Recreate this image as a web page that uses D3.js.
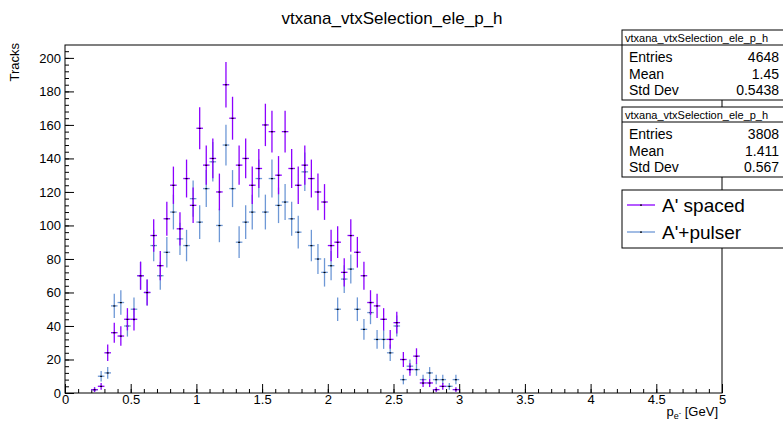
<!DOCTYPE html>
<html>
<head>
<meta charset="utf-8">
<script src="https://cdn.jsdelivr.net/npm/d3@7"></script>
<style>
  body { margin: 0; background: #fff; }
  svg { font-family: "Liberation Sans", Arial, sans-serif; }
</style>
</head>
<body>
<script>
// histogram: 100 bins of 0.05 GeV from 0 to 5, only bins 4..59 are filled
let binWidth = 0.05,
    firstBin = 4;

let spaced = [2, 4, 24, 36, 34, 44, 44, 70, 60, 94, 76, 104, 124, 98, 128, 112,
              158, 136, 140, 120, 184, 164, 136, 140, 124, 134, 160, 156, 130, 156,
              134, 124, 136, 128, 120, 114, 88, 90, 72, 94, 84, 70, 54, 52, 44, 32,
              42, 20, 14, 22, 6, 6, 2, 4, 0, 2];

let pulser = [2, 10, 12, 52, 54, 40, 50, 70, 60, 88, 70, 84, 108, 92, 88, 116,
              102, 122, 138, 100, 148, 122, 90, 102, 108, 128, 108, 128, 112, 114,
              104, 96, 132, 88, 80, 72, 76, 50, 68, 74, 50, 38, 48, 32, 32, 24,
              40, 8, 16, 14, 8, 12, 8, 8, 4, 8];

let xTicks = [0, 0.5, 1, 1.5, 2, 2.5, 3, 3.5, 4, 4.5, 5];
let yTicks = [0, 20, 40, 60, 80, 100, 120, 140, 160, 180, 200];

let stats = [
  {name: "vtxana_vtxSelection_ele_p_h", entries: "4648", mean: "1.45", std: "0.5438"},
  {name: "vtxana_vtxSelection_ele_p_h", entries: "3808", mean: "1.411", std: "0.567"}
];
let legendNames = ["A' spaced", "A'+pulser"];
let colors = ["#8c00ff", "#6e98d6"];

let width = 783, height = 426,
    margin = {top: 45, right: 61, bottom: 33, left: 65};

let x = d3.scaleLinear().domain([0, 5]).range([margin.left, width - margin.right]);
let y = d3.scaleLinear().domain([0, 207.7]).range([height - margin.bottom, margin.top]);

const svg = d3.select("body").append("svg")
    .attr("width", width)
    .attr("height", height);

// title
svg.append("text")
    .attr("x", 392).attr("y", 24)
    .attr("text-anchor", "middle")
    .attr("font-size", 17)
    .text("vtxana_vtxSelection_ele_p_h");

// axes, ticks inside the frame like ROOT
let xAxis = g => g
    .attr("transform", `translate(0,${y(0)})`)
    .call(d3.axisBottom(x).tickValues(xTicks).tickSize(-9).tickPadding(2)
      .tickFormat(d => d3.format("")(d)))
    .call(g => g.select(".domain").remove());
let xMinor = g => g
    .attr("transform", `translate(0,${y(0)})`)
    .call(d3.axisBottom(x).tickValues(d3.range(0, 5.01, 0.1)).tickSize(-4).tickFormat(""))
    .call(g => g.select(".domain").remove());
let yAxis = g => g
    .attr("transform", `translate(${x(0)},0)`)
    .call(d3.axisLeft(y).tickValues(yTicks).tickSize(-9).tickPadding(4))
    .call(g => g.select(".domain").remove());
let yMinor = g => g
    .attr("transform", `translate(${x(0)},0)`)
    .call(d3.axisLeft(y).tickValues(d3.range(0, 207, 4)).tickSize(-4).tickFormat(""))
    .call(g => g.select(".domain").remove());

svg.append("g").call(xMinor);
svg.append("g").call(yMinor);
svg.append("g").call(xAxis);
svg.append("g").call(yAxis);
svg.selectAll(".tick text").attr("font-size", 13).attr("fill", "#000")
    .attr("font-family", "Liberation Sans, Arial, sans-serif");
svg.selectAll(".tick line").attr("stroke", "#000");

// frame
svg.append("rect")
    .attr("x", x(0)).attr("y", y(207.7))
    .attr("width", x(5) - x(0)).attr("height", y(0) - y(207.7))
    .attr("fill", "none").attr("stroke", "#000");

// axis titles
svg.append("text")
    .attr("transform", `translate(19,${margin.top - 2}) rotate(-90)`)
    .attr("text-anchor", "end")
    .attr("font-size", 13)
    .text("Tracks");

let xl = svg.append("text")
    .attr("x", x(5) - 4).attr("y", 416)
    .attr("text-anchor", "end")
    .attr("font-size", 13);
xl.append("tspan").text("p");
xl.append("tspan").attr("font-size", 9).attr("dy", 3).text("e");
xl.append("tspan").attr("font-size", 7).attr("dy", -4).text("-");
xl.append("tspan").attr("dy", 1).text(" [GeV]");

// error-bar series
[pulser, spaced].forEach((vals, si) => {
  let col = si === 0 ? colors[1] : colors[0];
  let pts = vals.map((v, i) => ({lo: (firstBin + i) * binWidth, v: v}))
      .filter(d => d.v > 0);
  let g = svg.append("g").attr("stroke", col).attr("stroke-width", 1.3);
  g.selectAll("line.v").data(pts).join("line")
      .attr("x1", d => x(d.lo + binWidth / 2))
      .attr("x2", d => x(d.lo + binWidth / 2))
      .attr("y1", d => y(d.v + Math.sqrt(d.v)))
      .attr("y2", d => y(Math.max(0, d.v - Math.sqrt(d.v))));
  g.selectAll("line.h").data(pts).join("line")
      .attr("x1", d => x(d.lo))
      .attr("x2", d => x(d.lo + binWidth))
      .attr("y1", d => y(d.v))
      .attr("y2", d => y(d.v));
  svg.append("g").selectAll("rect").data(pts).join("rect")
      .attr("x", d => x(d.lo + binWidth / 2) - 1)
      .attr("y", d => y(d.v) - 0.5)
      .attr("width", 2).attr("height", 1.2)
      .attr("fill", "#000");
});

// stats boxes
let boxTops = [30, 107];
stats.forEach((s, i) => {
  let t = boxTops[i];
  let g = svg.append("g");
  g.append("rect").attr("x", 622).attr("y", t).attr("width", 170).attr("height", 70)
      .attr("fill", "#fff").attr("stroke", "#000");
  g.append("line").attr("x1", 622).attr("x2", 792).attr("y1", t + 15).attr("y2", t + 15)
      .attr("stroke", "#000");
  g.append("text").attr("x", 625).attr("y", t + 11.5).attr("font-size", 11).text(s.name);
  [["Entries", s.entries], ["Mean", s.mean], ["Std Dev", s.std]].forEach((r, j) => {
    g.append("text").attr("x", 629).attr("y", t + 32 + j * 16.5).attr("font-size", 14).text(r[0]);
    g.append("text").attr("x", 779).attr("y", t + 32 + j * 16.5).attr("font-size", 14)
        .attr("text-anchor", "end").text(r[1]);
  });
});

// legend
let lg = svg.append("g");
lg.append("rect").attr("x", 622).attr("y", 190).attr("width", 170).attr("height", 58)
    .attr("fill", "#fff").attr("stroke", "#000");
legendNames.forEach((n, i) => {
  let yy = 205 + i * 27;
  lg.append("line").attr("x1", 627).attr("x2", 655).attr("y1", yy).attr("y2", yy)
      .attr("stroke", colors[i]).attr("stroke-width", 1.3);
  lg.append("rect").attr("x", 640).attr("y", yy - 0.5).attr("width", 2).attr("height", 1.2)
      .attr("fill", "#000");
  lg.append("text").attr("x", 662).attr("y", yy + 7).attr("font-size", 19).text(n);
});
</script>
</body>
</html>
